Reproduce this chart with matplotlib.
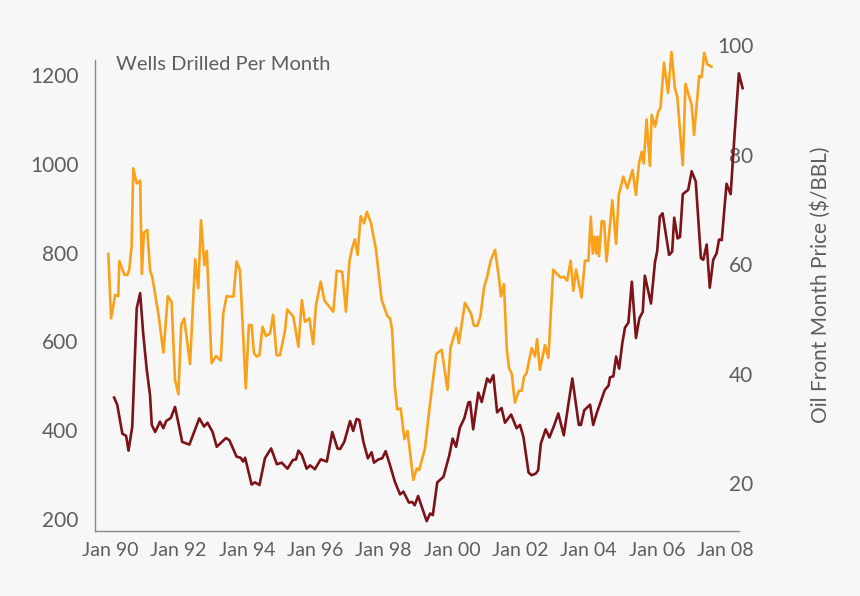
import numpy as np
import matplotlib
matplotlib.use("Agg")
import matplotlib.pyplot as plt

plt.rcParams["font.family"] = ["Lato", "DejaVu Sans"]

# Wells drilled per month (left axis), decimal year
wells_year = [1989.95, 1990.03, 1990.15, 1990.24, 1990.27, 1990.42, 1990.51, 1990.56, 1990.63, 1990.68,
              1990.78, 1990.88, 1990.93, 1990.99, 1991.09, 1991.17, 1991.24, 1991.41, 1991.56, 1991.69,
              1991.80, 1991.90, 1992.00, 1992.08, 1992.17, 1992.34, 1992.49, 1992.58, 1992.66, 1992.76,
              1992.83, 1992.97, 1993.10, 1993.24, 1993.31, 1993.41, 1993.51, 1993.61, 1993.70, 1993.80,
              1993.97, 1994.06, 1994.14, 1994.21, 1994.29, 1994.37, 1994.46, 1994.56, 1994.68, 1994.77,
              1994.87, 1994.97, 1995.12, 1995.18, 1995.36, 1995.51, 1995.61, 1995.70, 1995.83, 1995.94,
              1996.02, 1996.16, 1996.27, 1996.53, 1996.63, 1996.79, 1996.90, 1997.00, 1997.07, 1997.16,
              1997.24, 1997.33, 1997.43, 1997.51, 1997.63, 1997.78, 1997.94, 1998.11, 1998.19, 1998.25,
              1998.33, 1998.40, 1998.50, 1998.61, 1998.70, 1998.87, 1998.97, 1999.04, 1999.21, 1999.36,
              1999.54, 1999.70, 1999.87, 1999.96, 2000.13, 2000.20, 2000.38, 2000.56, 2000.64, 2000.74,
              2000.83, 2000.94, 2001.03, 2001.13, 2001.26, 2001.38, 2001.43, 2001.52, 2001.60, 2001.67,
              2001.75, 2001.84, 2001.96, 2002.04, 2002.11, 2002.18, 2002.33, 2002.43, 2002.49, 2002.57,
              2002.72, 2002.82, 2002.96, 2003.06, 2003.18, 2003.27, 2003.37, 2003.47, 2003.55, 2003.63,
              2003.79, 2003.89, 2003.99, 2004.06, 2004.12, 2004.17, 2004.22, 2004.26, 2004.30, 2004.38,
              2004.45, 2004.52, 2004.69, 2004.80, 2004.88, 2005.01, 2005.13, 2005.28, 2005.38, 2005.47,
              2005.55, 2005.61, 2005.69, 2005.79, 2005.84, 2005.94, 2006.03, 2006.10, 2006.20, 2006.32,
              2006.42, 2006.52, 2006.59, 2006.75, 2006.83, 2007.01, 2007.08, 2007.23, 2007.30, 2007.38,
              2007.47, 2007.59]
wells = [797, 652, 705, 702, 781, 750, 750, 761, 813, 990,
         956, 962, 752, 845, 851, 761, 743, 664, 575, 702,
         689, 513, 481, 637, 652, 549, 785, 720, 873, 772,
         804, 551, 567, 557, 663, 702, 701, 701, 780, 761,
         494, 637, 637, 573, 566, 569, 633, 612, 618, 660,
         569, 569, 626, 672, 656, 588, 693, 644, 652, 594,
         680, 735, 692, 667, 759, 757, 667, 780, 807, 830,
         795, 882, 866, 892, 867, 806, 695, 657, 652, 626,
         498, 447, 449, 380, 398, 288, 314, 310, 359, 461,
         572, 581, 491, 587, 630, 596, 687, 662, 636, 635,
         656, 722, 746, 782, 806, 740, 701, 729, 585, 539,
         527, 462, 489, 489, 521, 528, 585, 566, 605, 536,
         592, 563, 762, 753, 744, 746, 737, 782, 714, 762,
         699, 782, 782, 881, 798, 836, 798, 836, 792, 871,
         870, 780, 918, 820, 931, 971, 945, 986, 930, 1001,
         1027, 1001, 1100, 995, 1110, 1084, 1117, 1127, 1228, 1160,
         1252, 1170, 1151, 997, 1180, 1132, 1065, 1198, 1195, 1250,
         1224, 1219]

# Oil front month price (right axis, $/BBL)
oil_year = [1990.12, 1990.21, 1990.36, 1990.47, 1990.54, 1990.65, 1990.78, 1990.88, 1990.97, 1991.07,
            1991.17, 1991.22, 1991.32, 1991.46, 1991.56, 1991.64, 1991.78, 1991.90, 1992.00, 1992.11,
            1992.32, 1992.46, 1992.61, 1992.75, 1992.85, 1993.00, 1993.12, 1993.39, 1993.49, 1993.70,
            1993.82, 1993.89, 1993.95, 1994.14, 1994.24, 1994.37, 1994.53, 1994.71, 1994.88, 1995.02,
            1995.19, 1995.35, 1995.44, 1995.51, 1995.61, 1995.75, 1995.85, 1995.99, 1996.16, 1996.34,
            1996.50, 1996.65, 1996.73, 1996.85, 1997.02, 1997.11, 1997.21, 1997.29, 1997.41, 1997.54,
            1997.65, 1997.72, 1997.85, 1997.96, 1998.06, 1998.19, 1998.33, 1998.48, 1998.58, 1998.74,
            1998.84, 1998.91, 1999.01, 1999.26, 1999.36, 1999.44, 1999.57, 1999.75, 1999.92, 2000.02,
            2000.12, 2000.23, 2000.36, 2000.48, 2000.53, 2000.62, 2000.77, 2000.87, 2001.03, 2001.11,
            2001.21, 2001.32, 2001.45, 2001.55, 2001.73, 2001.89, 2001.99, 2002.09, 2002.24, 2002.33,
            2002.45, 2002.52, 2002.60, 2002.74, 2002.85, 2003.00, 2003.11, 2003.27, 2003.40, 2003.52,
            2003.71, 2003.77, 2003.87, 2004.04, 2004.13, 2004.23, 2004.47, 2004.58, 2004.62, 2004.72,
            2004.80, 2004.89, 2004.98, 2005.06, 2005.16, 2005.26, 2005.38, 2005.48, 2005.58, 2005.64,
            2005.82, 2005.94, 2006.00, 2006.08, 2006.16, 2006.35, 2006.44, 2006.50, 2006.60, 2006.67,
            2006.75, 2006.91, 2007.01, 2007.13, 2007.28, 2007.35, 2007.45, 2007.54, 2007.64, 2007.74,
            2007.81, 2007.89, 2008.03, 2008.15, 2008.27, 2008.39, 2008.50]
oil = [35.6, 34.3, 29.0, 28.6, 25.9, 30.3, 51.9, 54.7, 47.3, 40.9,
       36.0, 30.6, 29.3, 31.2, 30.0, 31.3, 31.9, 33.9, 30.9, 27.5,
       27.0, 29.3, 31.8, 30.3, 31.0, 29.3, 26.6, 28.2, 27.8, 24.8,
       24.6, 23.9, 24.6, 19.7, 20.1, 19.6, 24.5, 26.3, 23.4, 23.7,
       22.6, 24.2, 24.3, 25.9, 25.1, 22.6, 23.2, 22.5, 24.3, 23.9,
       29.3, 26.3, 26.2, 27.5, 31.3, 29.5, 31.7, 31.5, 27.5, 24.5,
       25.6, 23.7, 24.3, 24.5, 25.8, 23.2, 20.2, 17.9, 18.4, 16.4,
       16.5, 15.9, 17.6, 13.0, 14.4, 14.1, 20.1, 21.1, 25.0, 28.1,
       26.6, 30.1, 31.8, 34.7, 34.8, 29.8, 36.5, 34.8, 39.1, 38.4,
       39.7, 32.9, 33.7, 31.0, 32.5, 30.0, 30.6, 28.4, 21.9, 21.4,
       21.7, 22.3, 27.2, 29.8, 28.3, 30.7, 32.7, 28.7, 34.2, 39.1,
       30.6, 30.6, 33.3, 34.3, 30.6, 32.7, 37.0, 37.8, 39.3, 39.5,
       43.1, 40.9, 45.5, 48.4, 49.3, 56.8, 46.5, 50.1, 51.3, 57.9,
       52.8, 60.5, 62.3, 68.7, 69.3, 61.7, 62.3, 68.5, 64.7, 65.0,
       72.8, 73.6, 77.0, 75.1, 61.1, 60.8, 63.6, 55.7, 60.8, 62.0,
       64.5, 64.4, 74.7, 72.8, 84.2, 94.9, 92.2]

x_ticks = list(range(1990, 2009, 2))
x_labels = ["Jan %02d" % (y % 100) for y in x_ticks]
left_ticks = [200, 400, 600, 800, 1000, 1200]
right_ticks = [20, 40, 60, 80, 100]

BG = "#f7f7f7"
GRAY = "#5e5e5e"
ORANGE = "#f9a11b"
DARKRED = "#7b1319"

fig = plt.figure(figsize=(8.6, 5.96), dpi=100, facecolor=BG)
ax = fig.add_axes([95 / 860, 65 / 596, 650 / 860, 491 / 596])
ax.set_facecolor(BG)
ax2 = ax.twinx()

ax.plot(wells_year, wells, color=ORANGE, linewidth=1.9, clip_on=False, zorder=3)
ax2.plot(oil_year, oil, color=DARKRED, linewidth=1.9, clip_on=False, zorder=3)

ax.set_xlim(1989.56, 2008.57)
ax.set_ylim(173, 1279)
ax2.set_ylim(11.2, 101.0)

ax.set_xticks(x_ticks)
ax.set_xticklabels(x_labels)
ax.set_yticks(left_ticks)
ax2.set_yticks(right_ticks)

for s in ["top", "right"]:
    ax.spines[s].set_visible(False)
for s in ["top", "right", "left", "bottom"]:
    ax2.spines[s].set_visible(False)
ax.spines["left"].set_bounds(173, 1234)
ax.spines["bottom"].set_bounds(1989.56, 2008.39)
for s in ["left", "bottom"]:
    ax.spines[s].set_color("#8a8a8a")
    ax.spines[s].set_linewidth(1.0)

ax.tick_params(axis="y", length=0, pad=12, labelsize=15, labelcolor=GRAY)
ax.tick_params(axis="x", length=0, pad=8, labelsize=14, labelcolor=GRAY)
ax2.tick_params(axis="y", length=0, pad=6, labelsize=15, labelcolor=GRAY)
for lbl in ax2.get_yticklabels():
    lbl.set_horizontalalignment("right")

fig.text(116 / 860, 1 - 65 / 596, "Wells Drilled Per Month", fontsize=14.5,
         color=GRAY, ha="left", va="center")
fig.text(821 / 860, 1 - 285 / 596, "Oil Front Month Price ($/BBL)", fontsize=15,
         color=GRAY, ha="center", va="center", rotation=90)

fig.savefig("out.png", dpi=100, facecolor=BG)
